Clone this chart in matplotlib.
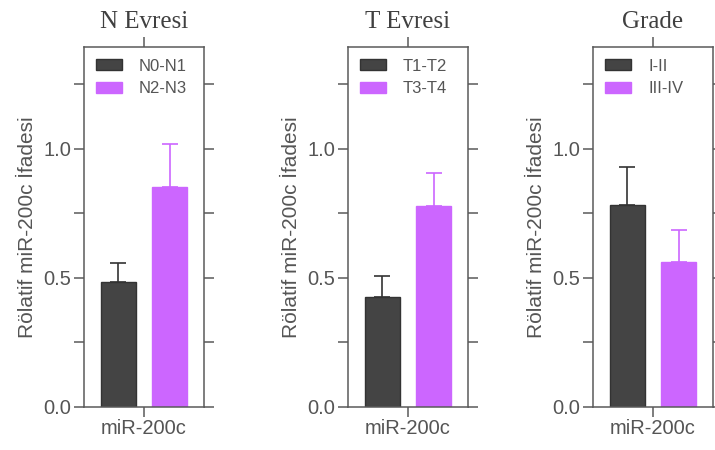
import matplotlib.pyplot as plt
from matplotlib.ticker import MultipleLocator

# data
titles = ["N Evresi", "T Evresi", "Grade"]
groups = [["N0-N1", "N2-N3"], ["T1-T2", "T3-T4"], ["I-II", "III-IV"]]
means = [[0.483, 0.851], [0.426, 0.780], [0.783, 0.563]]
sems = [[0.074, 0.168], [0.081, 0.126], [0.148, 0.123]]
xlabel = "miR-200c"
ylabel = "Rölatif miR-200c İfadesi"

dark = "#444444"
purple = "#CC66FF"
axis_gray = "#5a5a5a"

fig = plt.figure(figsize=(7.15, 4.5), dpi=100)
lefts = [84 / 715, 348 / 715, 593 / 715]

for i in range(3):
    ax = fig.add_axes([lefts[i], 43 / 450, 120 / 715, 360 / 450])
    xs = [-0.5, 0.5]
    colors = [dark, purple]
    edges = ["#333333", purple]
    for j in range(2):
        ax.bar(xs[j], means[i][j], width=0.667, color=colors[j], edgecolor=edges[j],
               linewidth=1, label=groups[i][j], zorder=2)
        ax.errorbar(xs[j], means[i][j], yerr=[[0], [sems[i][j]]], fmt="none",
                    ecolor=edges[j], elinewidth=1.2, capsize=5.5, capthick=1.2, zorder=1)

    ax.set_xlim(-1.176, 1.176)
    ax.set_ylim(0, 1.395)
    ax.yaxis.set_minor_locator(MultipleLocator(0.25))
    ax.set_yticks([0, 0.5, 1.0])
    ax.set_yticklabels(["0.0", "0.5", "1.0"])
    ax.set_xticks([0])
    ax.set_xticklabels([xlabel])

    for s in ax.spines.values():
        s.set_color(axis_gray)
        s.set_linewidth(1.1)
    ax.tick_params(axis="both", which="both", direction="out", length=7, width=1.1,
                   color=axis_gray, left=True, right=True, top=True, bottom=True,
                   labelcolor="#555555", labelsize=14.5, pad=2)
    for lab in ax.get_xticklabels() + ax.get_yticklabels():
        lab.set_fontfamily("Liberation Sans")

    ax.set_ylabel(ylabel, fontsize=15, color="#555555", family="Liberation Sans", labelpad=5)
    ax.set_title(titles[i], fontsize=18, color="#404040", family="Liberation Serif", pad=14)

    leg = ax.legend(loc="upper left", frameon=False, handlelength=1.6,
                    handleheight=0.6, handletextpad=1.0, labelspacing=0.45,
                    borderaxespad=0.3, prop={"family": "Liberation Sans", "size": 12})
    for t in leg.get_texts():
        t.set_color("#555555")

fig.savefig("out.png", dpi=100)
